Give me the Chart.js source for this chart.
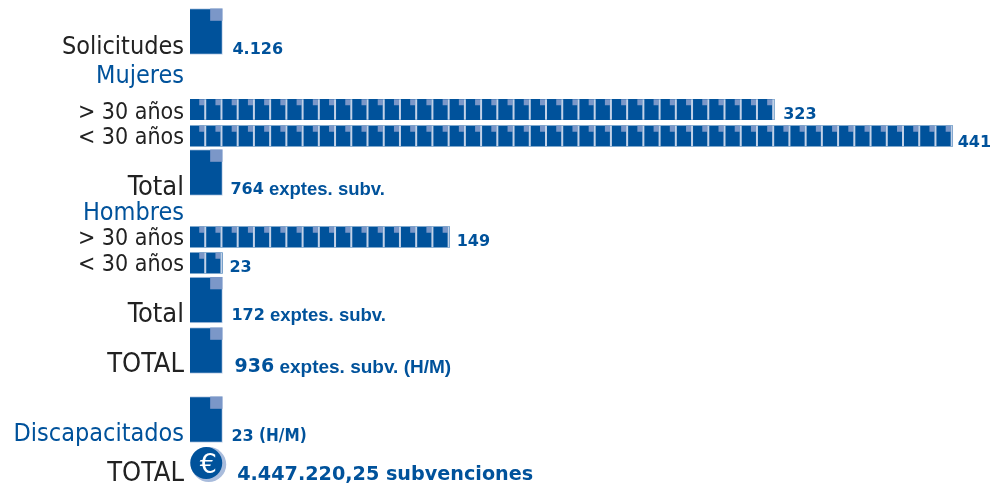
<!DOCTYPE html>
<html>
<head>
<meta charset="utf-8">
<script src="https://cdn.jsdelivr.net/npm/chart.js@4"></script>
<style>
  html, body { margin: 0; padding: 0; background: #fff; }
  #wrap { width: 990px; height: 488px; }
</style>
</head>
<body>
<div id="wrap"><canvas id="chart"></canvas></div>
<script>
// Data
const rowLabels = ["Solicitudes", "Mujeres", "> 30 años", "< 30 años", "Total", "Hombres", "> 30 años", "< 30 años", "Total", "TOTAL", "Discapacitados", "TOTAL"];
const smallIcons = [36, 47, 16, 2];
const smallLabels = ["323", "441", "149", "23"];
const bigIcons = [2, 2, 2, 2, 2];
const bigLabels = ["4.126", "764", "172", "936", "23"];
const bigSuffix = ["", " exptes. subv.", " exptes. subv.", " exptes. subv. (H/M)", " (H/M)"];
const euroValue = [1];
const euroLabel = "4.447.220,25 subvenciones";

// Layout, in axis units (tenths of a pixel row)
const labelPos = [4.7, 7.6, 11.3, 13.8, 18.8, 21.3, 23.9, 26.5, 31.5, 36.5, 43.4, 47.4];
const labelSizes = [25, 25, 23, 23, 27, 25, 23, 23, 27, 27, 25, 27];
const smallPos = [10.95, 13.6, 23.7, 26.3];
const bigPos = [3.15, 17.25, 30.0, 35.05, 41.95];
const euroPos = [46.3];
const smallDx = [9, 5, 7, 7];
const smallDy = [5, 7, 5, 5];
const bigDx = [10, 8, 9, 12, 9];
const bigDy = [18, 17, 16, 17, 17];

const BLUE = "#00529b";
const EAR = "#7b97c8";
const HALO = "#c3d2e8";
const DARK = "#222222";
const colouredRows = ["Mujeres", "Hombres", "Discapacitados"];

// Cuts every bar into paper icons, then writes the value next to it
const pictogram = {
  id: "pictogram",
  beforeDatasetsDraw(chart) {
    const euro = chart.getDatasetMeta(2).data[0];
    const ctx = chart.ctx;
    ctx.save();
    ctx.fillStyle = "#a9bcdc";
    ctx.beginPath();
    ctx.arc(euro.x + 2.5, euro.y + 1.5, 17.5, 0, Math.PI * 2);
    ctx.fill();
    ctx.restore();
  },
  afterDatasetsDraw(chart) {
    const ctx = chart.ctx;
    ctx.save();
    chart.getDatasetMeta(0).data.forEach((bar, i) => {
      const top = bar.y - bar.height / 2;
      const pitch = (bar.x - bar.base) / smallIcons[i];
      for (let n = 0; n < smallIcons[i]; n++) {
        const right = bar.base + pitch * (n + 1);
        ctx.fillStyle = EAR;
        ctx.fillRect(right - 7, top, 5, 6);
        ctx.fillStyle = HALO;
        ctx.fillRect(right - 2, top, 2, bar.height);
      }
      writeValue(ctx, [[smallLabels[i], "bold 16px 'DejaVu Sans'"]], bar.x + smallDx[i], bar.y + smallDy[i]);
    });
    chart.getDatasetMeta(1).data.forEach((bar, i) => {
      const top = bar.y - bar.height / 2;
      ctx.fillStyle = EAR;
      ctx.fillRect(bar.x - 12.3, top, 12.3, 12.3);
      const numFont = i === 3 ? "bold 19px 'DejaVu Sans'" : "bold 16px 'DejaVu Sans'";
      const sufFont = i === 4 ? "bold 17px 'DejaVu Sans Condensed'" : (i === 3 ? "bold 19px 'Liberation Sans'" : "bold 18.5px 'Liberation Sans'");
      writeValue(ctx, [[bigLabels[i], numFont], [bigSuffix[i], sufFont]], bar.x + bigDx[i], bar.y + bigDy[i]);
    });
    const euro = chart.getDatasetMeta(2).data[0];
    ctx.fillStyle = "#ffffff";
    ctx.font = "27px 'DejaVu Sans'";
    ctx.textAlign = "center";
    ctx.textBaseline = "middle";
    ctx.fillText("€", euro.x + 2, euro.y + 3);
    writeValue(ctx, [[euroLabel, "bold 19.2px 'DejaVu Sans'"]], euro.x + 31, euro.y + 12);
    ctx.restore();
  }
};

function writeValue(ctx, parts, x, y) {
  ctx.fillStyle = BLUE;
  ctx.textAlign = "left";
  ctx.textBaseline = "middle";
  parts.forEach(([text, font]) => {
    ctx.font = font;
    ctx.fillText(text, x, y);
    x += ctx.measureText(text).width;
  });
}

new Chart(document.getElementById("chart"), {
  type: "bar",
  plugins: [pictogram],
  data: {
    datasets: [
      {
        data: smallIcons.map((v, i) => ({ x: v, y: smallPos[i] })),
        backgroundColor: BLUE,
        barThickness: 20.5,
        grouped: false
      },
      {
        data: bigIcons.map((v, i) => ({ x: v, y: bigPos[i] })),
        backgroundColor: BLUE,
        borderColor: HALO,
        borderWidth: 1,
        barThickness: 46,
        grouped: false
      },
      {
        type: "bubble",
        data: euroValue.map((v, i) => ({ x: v, y: euroPos[i], r: 16 })),
        backgroundColor: BLUE,
        borderWidth: 0
      }
    ]
  },
  options: {
    indexAxis: "y",
    responsive: true,
    maintainAspectRatio: false,
    animation: false,
    layout: { padding: 0, autoPadding: false },
    plugins: { legend: { display: false }, tooltip: { enabled: false } },
    scales: {
      x: { type: "linear", min: 0, max: 49.3, display: false, offset: false },
      y: {
        type: "linear",
        reverse: true,
        min: 0,
        max: 48.8,
        offset: false,
        grid: { display: false, drawTicks: false },
        border: { display: false },
        afterFit(scale) {
          scale.width = 190;
          // labels sit inside the plot, no room needed above or below
          scale.paddingTop = 0;
          scale.paddingBottom = 0;
        },
        afterBuildTicks(scale) { scale.ticks = labelPos.map(value => ({ value })); },
        ticks: {
          autoSkip: false,
          padding: 6,
          font: ctx => ({ family: "'DejaVu Sans Condensed'", size: labelSizes[ctx.index] }),
          color: ctx => colouredRows.includes(rowLabels[ctx.index]) ? BLUE : DARK,
          callback: (value, i) => rowLabels[i]
        }
      }
    }
  }
});
</script>
</body>
</html>
